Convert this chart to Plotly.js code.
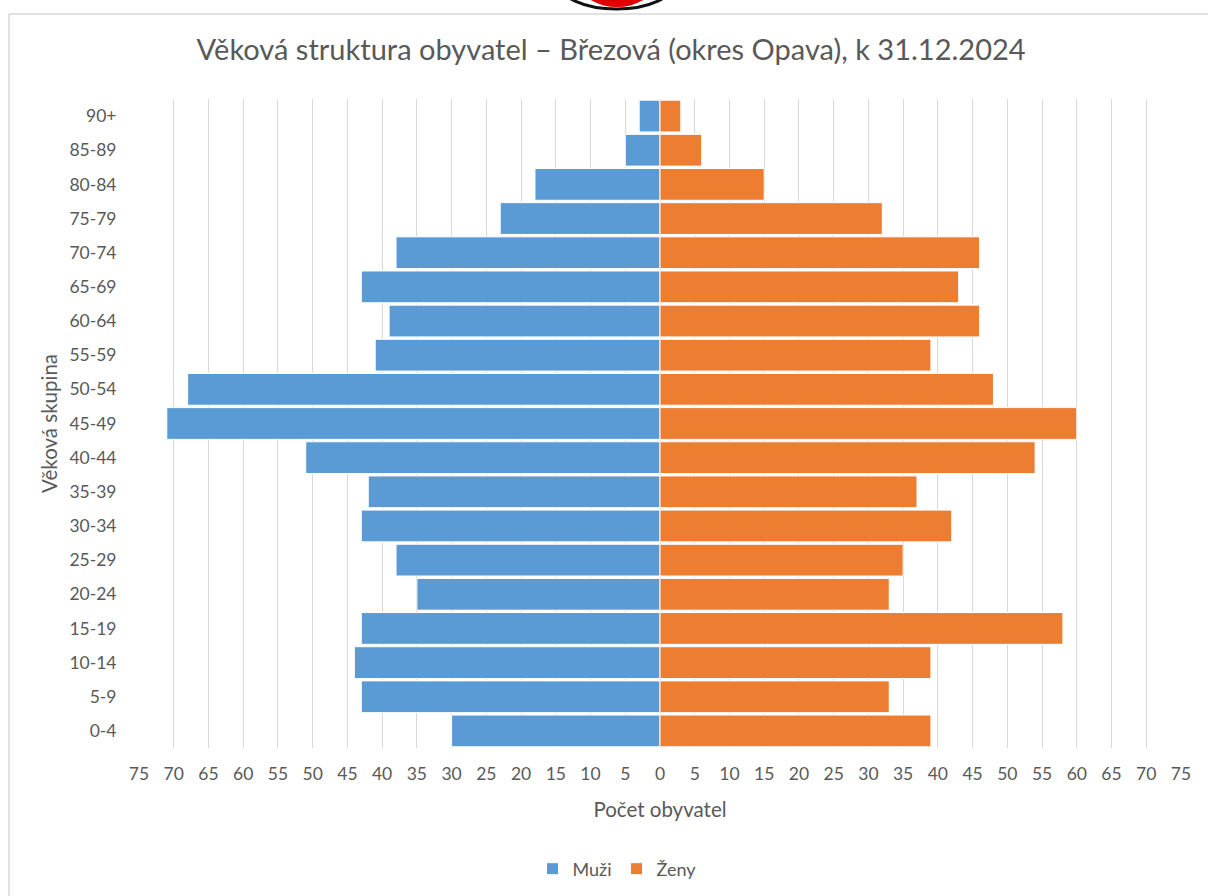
<!DOCTYPE html>
<html>
<head>
<meta charset="utf-8">
<script src="https://cdn.plot.ly/plotly-3.0.1.min.js"></script>
<style>
html,body{margin:0;padding:0;background:#fff;}
#chart{width:1208px;height:896px;}
</style>
</head>
<body>
<div id="chart"></div>
<script>
// Age groups, bottom to top
const ageGroups = ["0-4","5-9","10-14","15-19","20-24","25-29","30-34","35-39","40-44","45-49","50-54","55-59","60-64","65-69","70-74","75-79","80-84","85-89","90+"];
const men   = [30,43,44,43,35,38,43,42,51,71,68,41,39,43,38,23,18,5,3];
const women = [39,33,39,58,33,35,42,37,54,60,48,39,46,43,46,32,15,6,3];
const tickValues = [-75,-70,-65,-60,-55,-50,-45,-40,-35,-30,-25,-20,-15,-10,-5,0,5,10,15,20,25,30,35,40,45,50,55,60,65,70,75];
const tickLabels = tickValues.map(v => String(Math.abs(v)));

const FONT = "Lato, 'Open Sans', sans-serif";
const TXT = "#595959";

// pixel -> paper helpers (plot area: x 139..1181, y 99..748)
const L = 139, R = 1181, T = 99, B = 748;
const px = v => (v - L) / (R - L);
const py = v => (B - v) / (B - T);

const traces = [
  {
    type: "bar", orientation: "h", name: "Muži",
    y: ageGroups, x: men.map(v => -v),
    marker: {color: "#5B9BD5", line: {color: "#ffffff", width: 1}},
    hoverinfo: "skip"
  },
  {
    type: "bar", orientation: "h", name: "Ženy",
    y: ageGroups, x: women,
    marker: {color: "#ED7D31", line: {color: "#ffffff", width: 1}},
    hoverinfo: "skip"
  }
];

const layout = {
  width: 1208, height: 896,
  paper_bgcolor: "#ffffff", plot_bgcolor: "#ffffff",
  margin: {l: L, r: 1208 - R, t: T, b: 896 - B, pad: 0},
  barmode: "relative",
  bargap: 0.07,
  font: {family: FONT, color: TXT, size: 17},
  title: {
    text: "Věková struktura obyvatel – Březová (okres Opava), k 31.12.2024",
    font: {family: FONT, size: 29, color: TXT},
    x: 611/1208, xanchor: "center", xref: "container",
    y: 1 - 50/896, yanchor: "middle", yref: "container"
  },
  xaxis: {
    range: [-75, 75],
    tickmode: "array", tickvals: tickValues, ticktext: tickLabels,
    showgrid: true, gridcolor: "#D9D9D9", gridwidth: 1,
    zeroline: false, showline: false,
    ticks: "outside", ticklen: 10, tickcolor: "rgba(0,0,0,0)",
    tickfont: {family: FONT, size: 17.5, color: TXT},
    title: {text: "Počet obyvatel", font: {family: FONT, size: 20.5, color: TXT}, standoff: 19},
    fixedrange: true
  },
  yaxis: {
    type: "category",
    showgrid: false, zeroline: false, showline: false,
    ticks: "outside", ticklen: 18, tickcolor: "rgba(0,0,0,0)",
    tickfont: {family: FONT, size: 17.5, color: TXT},
    title: {text: "Věková skupina", font: {family: FONT, size: 20.5, color: TXT}, standoff: 6},
    fixedrange: true
  },
  legend: {
    orientation: "h",
    x: 617/1208, xanchor: "center", xref: "container",
    y: 1 - 869/896, yanchor: "middle", yref: "container",
    font: {family: FONT, size: 18, color: TXT},
    itemwidth: 30, traceorder: "normal"
  },
  shapes: [
    // chart frame (left & top edges)
    {type: "line", xref: "paper", yref: "paper", x0: px(9), x1: px(9), y0: py(14), y1: py(900), line: {color: "#D9D9D9", width: 1.5}},
    {type: "line", xref: "paper", yref: "paper", x0: px(9), x1: px(1210), y0: py(14), y1: py(14), line: {color: "#D9D9D9", width: 1.5}},
    // partially visible logo above the frame
    {type: "circle", xref: "paper", yref: "paper", x0: px(558), x1: px(675), y0: py(-45), y1: py(9), fillcolor: "#ffffff", line: {color: "#111111", width: 3}},
    {type: "circle", xref: "paper", yref: "paper", x0: px(582), x1: px(652), y0: py(-35), y1: py(7), fillcolor: "#E00000", line: {width: 0}}
  ],
  showlegend: true
};

Plotly.newPlot("chart", traces, layout, {displayModeBar: false, staticPlot: true});
</script>
</body>
</html>
